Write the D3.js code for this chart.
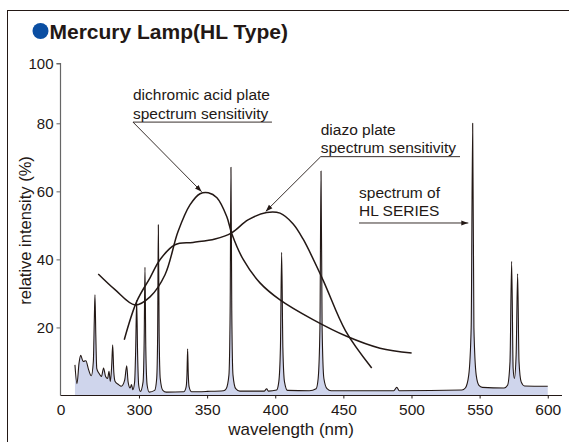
<!DOCTYPE html>
<html>
<head>
<meta charset="utf-8">
<script src="https://cdn.jsdelivr.net/npm/d3@7"></script>
<style>
  html, body { margin: 0; padding: 0; background: #fff; }
  svg { display: block; }
  text { font-family: "Liberation Sans", Arial, sans-serif; fill: #231815; }
</style>
</head>
<body>
<svg id="chart" width="569" height="442"></svg>
<script>
// ---------- data ----------
const xTickValues = [0, 300, 350, 400, 450, 500, 550, 600];
const yTickValues = [20, 40, 60, 80, 100];

// HL series mercury-lamp spectrum: [wavelength nm, relative intensity %]
const spectrumWl = [253, 254.5, 256, 257.2, 259, 261, 263, 265, 266.5, 267.2, 267.7, 268.3, 269, 270.5, 272.5, 274, 275.5, 277, 278, 279, 280, 280.7, 281.5, 282.5, 285, 287, 289.5, 291, 292, 293.5, 294.5, 295.5, 296.8, 297.6, 298.3, 299, 299.8, 301, 303, 303.8, 304.4, 305, 306, 307.5, 311.5, 313, 313.7, 314.2, 314.8, 315.6, 317.5, 320, 333, 334.6, 335.2, 335.7, 336.2, 336.8, 338.5, 350, 362, 364, 366, 366.9, 367.5, 368.1, 369, 371, 374, 392, 393.7, 395, 401, 402.6, 403.8, 404.7, 405.6, 406.8, 409, 425, 430, 431.5, 432.8, 433.6, 434.4, 435.7, 438, 441, 487, 489.2, 491, 537, 539.5, 542, 543.8, 544.9, 545.8, 547.5, 549.5, 552, 568, 570.5, 572.3, 573.5, 574.6, 575.5, 576.8, 577.9, 578.9, 580.5, 583, 600];
const spectrumVal = [9.0, 3.5, 9.5, 11.8, 10.0, 10.2, 7.6, 5.8, 10, 22, 29.6, 18, 8, 6.6, 5.6, 8.1, 5.6, 5, 7.1, 4.1, 9, 14.9, 7, 4.1, 3.2, 2.7, 4.5, 8.75, 4, 2.2, 3.2, 1.7, 4, 14, 28, 12, 3, 1.2, 4, 16, 37.7, 14, 3, 1.0, 1.5, 5, 18, 50.2, 18, 5, 1.5, 1.0, 1.1, 2.5, 6, 13.7, 6, 2.5, 1.1, 1.2, 1.4, 2, 6, 25, 67.1, 25, 6, 2, 1.3, 1.3, 2.0, 1.3, 1.6, 4, 14, 42.1, 14, 4, 1.5, 1.4, 2.0, 5, 20, 66, 20, 5, 2, 1.4, 1.4, 2.4, 1.4, 1.6, 2.2, 6, 20, 80, 20, 6, 3, 2.4, 2.2, 3, 10, 39.4, 8, 5, 12, 35.8, 10, 4, 2.8, 2.7];

// dichromic acid plate spectrum sensitivity
const dichromicWl  = [270.1, 282.4, 297.1, 308.1, 319.1, 328.6, 337.4, 344.8, 350.9, 357.2, 364.4, 368, 376.6, 388.8, 403.5, 427.7, 452.4, 476.9, 500.1];
const dichromicVal = [35.7, 31.1, 26.6, 29.0, 35.5, 48.1, 56.0, 59.3, 59.6, 58.1, 52.6, 47.7, 39.9, 33.1, 28.1, 22.3, 17.4, 13.9, 12.5];

// diazo plate spectrum sensitivity
const diazoWl  = [289.2, 298.3, 308.1, 315.4, 326.4, 339.6, 355.8, 368, 380, 393.7, 403.5, 413, 420.4, 435, 451.6, 470.8];
const diazoVal = [16.4, 27.6, 34.6, 39.9, 44.3, 45.0, 46.0, 47.8, 51.6, 53.8, 53.6, 50.5, 46.0, 34.0, 19.0, 8.1];

// annotations (data units)
const annotations = [
  { lines: ["dichromic acid plate", "spectrum sensitivity"], from: [295.6, 80.4], to: [397.6, 80.4], tip: [346.0, 59.9] },
  { lines: ["diazo plate", "spectrum sensitivity"], from: [433.4, 70.2], to: [535.6, 70.2], tip: [393.0, 54.1] }
];
const seriesNote = { lines: ["spectrum of", "HL SERIES"], from: [461.5, 50.7], to: [541.7, 50.7] };

// ---------- drawing ----------
const svg = d3.select("#chart");
const ink = "#231815";

// frame
svg.append("rect").attr("x", 7.5).attr("y", 10.5).attr("width", 640).attr("height", 500)
  .attr("fill", "none").attr("stroke", ink).attr("stroke-width", 1);

// title
svg.append("circle").attr("cx", 40.5).attr("cy", 31).attr("r", 8).attr("fill", "#0a4ea2");
svg.append("text").attr("x", 49.5).attr("y", 38.5).attr("font-size", 21).attr("font-weight", "bold")
  .text("Mercury Lamp(HL Type)");

// scales (broken axes as in the original)
const x = d3.scaleLinear().domain([0, 242.4, 600]).range([60.5, 60.5, 547.75]);
const y = d3.scaleLinear().domain([0, 80, 100]).range([395.5, 123.3, 63.5]);

// spectrum fill + line
const spec = spectrumWl.map((w, i) => [w, spectrumVal[i]]);
svg.append("path").datum(spec)
  .attr("d", d3.area().x(d => x(d[0])).y0(y(0)).y1(d => y(d[1])).curve(d3.curveMonotoneX))
  .attr("fill", "#cfd5ec");
svg.append("path").datum(spec)
  .attr("d", d3.line().x(d => x(d[0])).y(d => y(d[1])).curve(d3.curveMonotoneX))
  .attr("fill", "none").attr("stroke", ink).attr("stroke-width", 1.1).attr("stroke-linejoin", "round");

// sensitivity curves
const curveLine = d3.line().x(d => x(d[0])).y(d => y(d[1])).curve(d3.curveCatmullRom.alpha(0.5));
[[dichromicWl, dichromicVal], [diazoWl, diazoVal]].forEach(([w, v]) => {
  svg.append("path").datum(w.map((d, i) => [d, v[i]]))
    .attr("d", curveLine).attr("fill", "none").attr("stroke", ink).attr("stroke-width", 1.5);
});

// axes
const xAxis = d3.axisBottom(x).tickValues(xTickValues).tickSize(3).tickPadding(5).tickFormat(d3.format("d"));
const gx = svg.append("g").attr("transform", `translate(0,${y(0)})`).call(xAxis);
gx.select(".domain").attr("d", `M60.5,0H562`).attr("stroke", ink).attr("stroke-width", 1.2);
gx.selectAll(".tick").filter(d => d === 0).select("line").remove();
gx.selectAll(".tick line").attr("stroke", ink);
gx.selectAll(".tick text").attr("font-size", 15.5).attr("fill", ink).attr("font-family", "Liberation Sans, Arial, sans-serif");

const yAxis = d3.axisLeft(y).tickValues(yTickValues).tickSize(4).tickPadding(3);
const gy = svg.append("g").attr("transform", `translate(60.5,0)`).call(yAxis);
gy.select(".domain").attr("d", `M-4,${y(100)}H0V${y(0)}`).attr("stroke", "#666").attr("stroke-width", 1.2);
gy.selectAll(".tick line").attr("stroke", "#666");
gy.selectAll(".tick text").attr("font-size", 15).attr("fill", ink).attr("font-family", "Liberation Sans, Arial, sans-serif");

// axis titles
svg.append("text").attr("x", 291).attr("y", 435).attr("text-anchor", "middle").attr("font-size", 17)
  .text("wavelength (nm)");
svg.append("text").attr("transform", `translate(31,${y(40)-29}) rotate(-90)`).attr("text-anchor", "middle")
  .attr("font-size", 16.5).text("relative intensity (%)");

// arrow marker
const defs = svg.append("defs");
defs.append("marker").attr("id", "arr").attr("viewBox", "0 0 10 10").attr("refX", 10).attr("refY", 5)
  .attr("markerWidth", 7).attr("markerHeight", 7).attr("markerUnits", "userSpaceOnUse").attr("orient", "auto")
  .append("path").attr("d", "M0,1.5L10,5L0,8.5Z").attr("fill", ink);

// annotations
annotations.forEach(a => {
  const x0 = x(a.from[0]), yy = y(a.from[1]), x1 = x(a.to[0]);
  svg.append("line").attr("x1", x0).attr("x2", x1).attr("y1", yy).attr("y2", yy)
    .attr("stroke", ink).attr("stroke-width", 0.9);
  svg.append("line").attr("x1", x0).attr("y1", yy).attr("x2", x(a.tip[0])).attr("y2", y(a.tip[1]))
    .attr("stroke", ink).attr("stroke-width", 0.9).attr("marker-end", "url(#arr)");
  a.lines.forEach((t, i) => {
    svg.append("text").attr("x", x0).attr("y", yy - 22 + i * 18.5).attr("font-size", 15.5).text(t);
  });
});
{
  const a = seriesNote;
  const x0 = x(a.from[0]), yy = y(a.from[1]), x1 = x(a.to[0]);
  svg.append("line").attr("x1", x0).attr("x2", x1).attr("y1", yy).attr("y2", yy)
    .attr("stroke", ink).attr("stroke-width", 0.9).attr("marker-end", "url(#arr)");
  a.lines.forEach((t, i) => {
    svg.append("text").attr("x", x0).attr("y", yy - 24.5 + i * 17.5).attr("font-size", 15.5).text(t);
  });
}
</script>
</body>
</html>
